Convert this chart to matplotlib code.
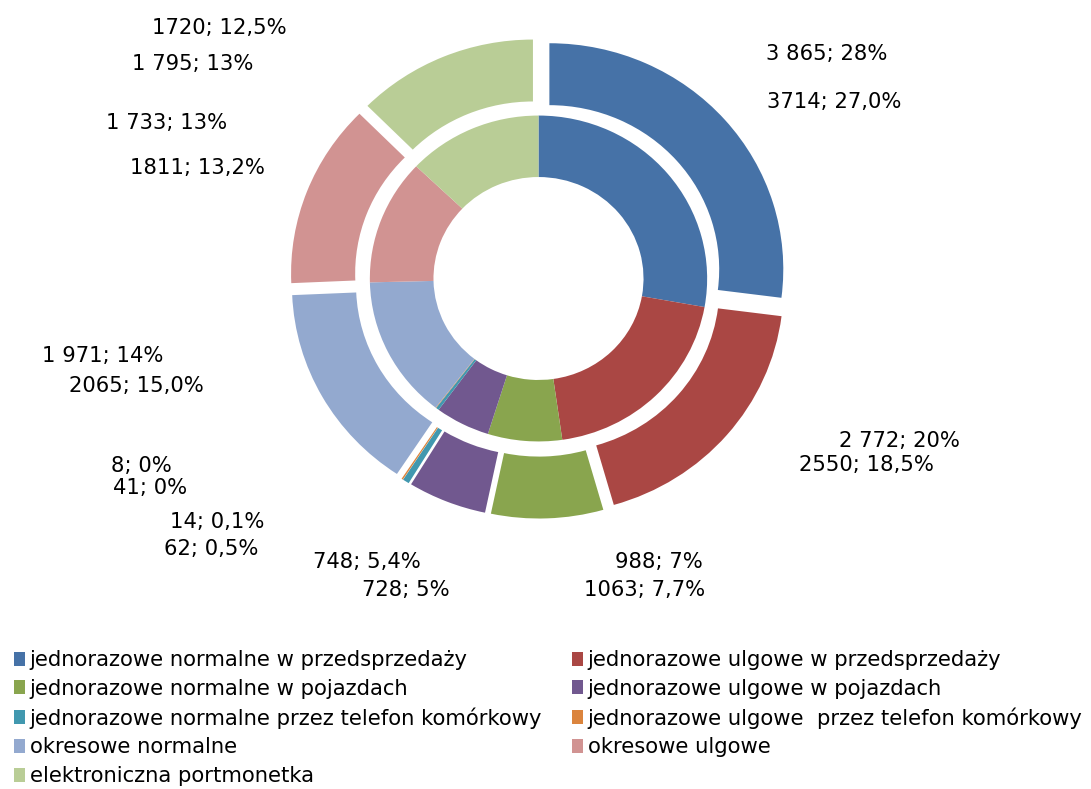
import matplotlib
matplotlib.use("Agg")
import matplotlib.pyplot as plt
from matplotlib.patches import Patch

categories = [
    "jednorazowe normalne w przedsprzedaży",
    "jednorazowe ulgowe w przedsprzedaży",
    "jednorazowe normalne w pojazdach",
    "jednorazowe ulgowe w pojazdach",
    "jednorazowe normalne przez telefon komórkowy",
    "jednorazowe ulgowe  przez telefon komórkowy",
    "okresowe normalne",
    "okresowe ulgowe",
    "elektroniczna portmonetka",
]
outer_values = [3714, 2550, 1063, 748, 62, 14, 2065, 1811, 1720]
inner_values = [3865, 2772, 988, 728, 41, 8, 1971, 1733, 1795]
outer_pct = ["27,0%", "18,5%", "7,7%", "5,4%", "0,5%", "0,1%", "15,0%", "13,2%", "12,5%"]
inner_pct = ["28%", "20%", "7%", "5%", "0%", "0%", "14%", "13%", "13%"]
colors = ["#4672A7", "#AA4744", "#89A54E", "#71588F", "#4198AF",
          "#DB843D", "#93A9CF", "#D19392", "#B9CD96"]

W, H = 1091, 789
fig = plt.figure(figsize=(W / 100, H / 100), dpi=100)

# axes placed so the doughnut centre is at (538.5, 278.5) px
R_px = 226.0
stretch = 1.035
lim = 1.15
aw = 2 * lim * R_px * stretch
ah = 2 * lim * R_px
cx, cy = 538.5, 278.5
ax = fig.add_axes([(cx - aw / 2) / W, (H - (cy + ah / 2)) / H, aw / W, ah / H])

ax.pie(outer_values, radius=1.0, colors=colors, startangle=90, counterclock=False,
       explode=[0.062] * len(outer_values),
       wedgeprops=dict(width=0.274, edgecolor="none", linewidth=0))
ax.pie(inner_values, radius=0.721, colors=colors, startangle=90, counterclock=False,
       wedgeprops=dict(width=0.272, edgecolor="none", linewidth=0))
ax.set_aspect("auto")
ax.set_xlim(-lim, lim)
ax.set_ylim(-lim, lim)
ax.axis("off")

def fmt_space(v):
    return f"{v:,}".replace(",", " ")

inner_pos = [(826.5, 54.5), (899, 441), (659, 562), (406, 590), (150, 488),
             (141, 466), (102.5, 356), (166.5, 123), (192.5, 64.5)]
outer_pos = [(834, 101.5), (866.5, 465), (645, 590), (367, 562), (211, 549),
             (217, 522), (136, 386), (197.5, 167.5), (219.5, 28)]

lab_fs = 15.2
for v, p, (x, y) in zip(inner_values, inner_pct, inner_pos):
    fig.text(x / W, 1 - y / H, f"{fmt_space(v)}; {p}", ha="center", va="center",
             fontsize=lab_fs, color="black")
for v, p, (x, y) in zip(outer_values, outer_pct, outer_pos):
    fig.text(x / W, 1 - y / H, f"{v}; {p}", ha="center", va="center",
             fontsize=lab_fs, color="black")

handles = [Patch(facecolor=c, edgecolor="none") for c in colors]
col1 = [0, 2, 4, 6, 8]
col2 = [1, 3, 5, 7]
leg_kw = dict(loc="upper left", frameon=False, fontsize=15.2, handlelength=0.5,
              handleheight=0.65, handletextpad=0.25, labelspacing=0.41,
              borderpad=0, borderaxespad=0)
leg1 = fig.legend([handles[i] for i in col1], [categories[i] for i in col1],
                  bbox_to_anchor=(14 / W, 1 - 650 / H), **leg_kw)
leg2 = fig.legend([handles[i] for i in col2], [categories[i] for i in col2],
                  bbox_to_anchor=(572 / W, 1 - 650 / H), **leg_kw)

fig.savefig("out.png", dpi=100)
